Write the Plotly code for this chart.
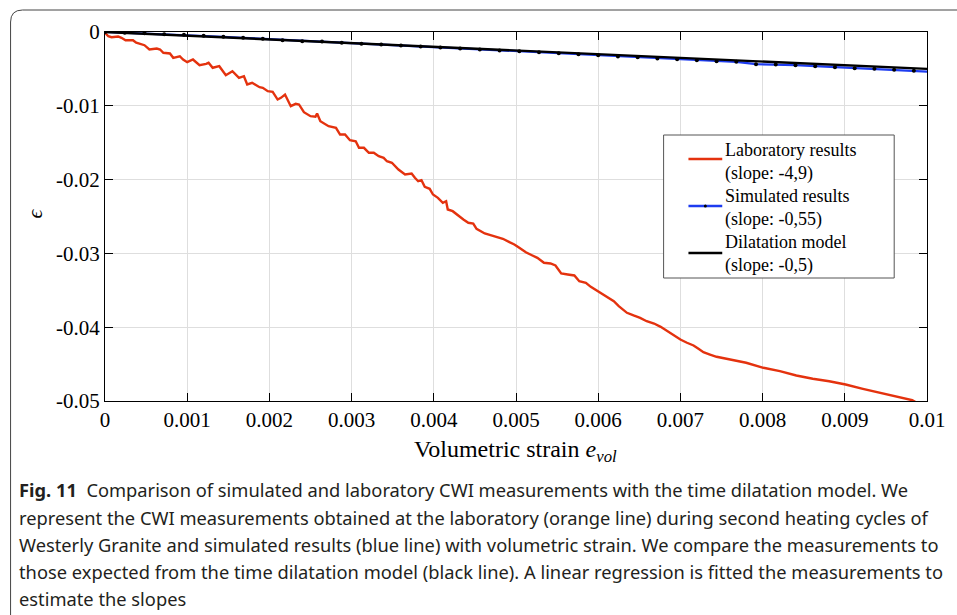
import plotly.graph_objects as go

# ---------------- data ----------------
lab_strain = [0, 0.00004, 0.00008, 0.00016, 0.00020, 0.00025, 0.00034, 0.00038, 0.00048, 0.00054,
              0.00063, 0.00067, 0.00071, 0.00079, 0.00083, 0.00091, 0.00095, 0.00100, 0.00107, 0.00115,
              0.00123, 0.00126, 0.00131, 0.00139, 0.00147, 0.00155, 0.00163, 0.00169, 0.00173, 0.00179,
              0.00188,
              0.00192, 0.00198, 0.00204, 0.00210, 0.00214, 0.00219, 0.00226, 0.00232, 0.00236, 0.00242,
              0.00250, 0.00256, 0.00258, 0.00262, 0.00272, 0.00281, 0.00286, 0.00292, 0.00298, 0.00305,
              0.00309, 0.00315, 0.00321, 0.00327, 0.00333, 0.00339, 0.00343, 0.00349, 0.00357, 0.00365,
              0.00373,
              0.00377, 0.00381, 0.00385, 0.00389, 0.00395, 0.00399, 0.00405, 0.00411, 0.00415, 0.00417,
              0.00423, 0.00430, 0.00436, 0.00442, 0.00448, 0.00452, 0.00462, 0.00470, 0.00476, 0.00484,
              0.00492, 0.00498, 0.00504, 0.00512, 0.00520, 0.00526, 0.00534, 0.00542, 0.00548, 0.00555,
              0.00563, 0.00571, 0.00577, 0.00585, 0.00591, 0.00599, 0.00609, 0.00619, 0.00625, 0.00635,
              0.00643, 0.00651, 0.00659, 0.00668, 0.00676, 0.00684, 0.00692, 0.00700, 0.00708, 0.00716,
              0.00722, 0.00728, 0.00736, 0.00744, 0.00756, 0.00768, 0.00780,
              0.00801, 0.00821, 0.00841, 0.00861, 0.00881, 0.00901, 0.00922, 0.00942, 0.00962, 0.00982,
              0.00990]
lab_eps = [-0.0001, -0.00057, -0.00070, -0.00061, -0.00079, -0.00111, -0.00111, -0.00146, -0.00179, -0.00237,
           -0.00224, -0.00237, -0.00282, -0.00291, -0.00350, -0.00328, -0.00373, -0.00409, -0.00373, -0.00450,
           -0.00431, -0.00417, -0.00485, -0.00463, -0.00585, -0.00531, -0.00621, -0.00599, -0.00711, -0.00688,
           -0.00748,
           -0.00756, -0.00802, -0.00810, -0.00915, -0.00892, -0.00847, -0.01005, -0.00973, -0.00982, -0.01087,
           -0.01141, -0.01149, -0.01104, -0.01209, -0.01276, -0.01298, -0.01389, -0.01389, -0.01466, -0.01480,
           -0.01569, -0.01569, -0.01637, -0.01637, -0.01683, -0.01705, -0.01751, -0.01772, -0.01863, -0.01931,
           -0.01917,
           -0.01976, -0.02022, -0.02008, -0.02098, -0.02125, -0.02202, -0.02247, -0.02314, -0.02293, -0.02405,
           -0.02428, -0.02496, -0.02541, -0.02585, -0.02595, -0.02667, -0.02730, -0.02757, -0.02775, -0.02802,
           -0.02848, -0.02879, -0.02924, -0.02984, -0.03028, -0.03060, -0.03127, -0.03137, -0.03164, -0.03272,
           -0.03286, -0.03299, -0.03377, -0.03398, -0.03453, -0.03512, -0.03580, -0.03648, -0.03715, -0.03805,
           -0.03841, -0.03873, -0.03919, -0.03950, -0.03995, -0.04054, -0.04112, -0.04167, -0.04211, -0.04248,
           -0.04293, -0.04339, -0.04370, -0.04401, -0.04428, -0.04455, -0.04482,
           -0.04550, -0.04596, -0.04654, -0.04699, -0.04732, -0.04776, -0.04835, -0.04889, -0.04943, -0.04989,
           -0.05040]

sim_strain = [0, 0.00024, 0.00048, 0.00072, 0.00096, 0.0012, 0.00144, 0.00168, 0.00192, 0.00216,
              0.0024, 0.00264, 0.00288, 0.00312, 0.00336, 0.0036, 0.00384, 0.00408, 0.00432, 0.00456,
              0.0048, 0.00504, 0.00528, 0.00552, 0.00576, 0.006, 0.00624, 0.00648, 0.00672, 0.00696,
              0.0072, 0.00744, 0.00768, 0.00792, 0.00816, 0.0084, 0.00864, 0.00888, 0.00912, 0.00936,
              0.0096, 0.00984, 0.01008]
sim_eps = [0, -0.0001, -0.00016, -0.0003, -0.00038, -0.00051, -0.00065, -0.00079, -0.00092, -0.00111,
           -0.00125, -0.00129, -0.00146, -0.0016, -0.00169, -0.00182, -0.00195, -0.00209, -0.00222, -0.00236,
           -0.0025, -0.00262, -0.00275, -0.00288, -0.00301, -0.00314, -0.00332, -0.00341, -0.00359, -0.00369,
           -0.00382, -0.00396, -0.00404, -0.00436, -0.0044, -0.0045, -0.00463, -0.00477, -0.0049, -0.00498,
           -0.00512, -0.00526, -0.0054]

model_strain = [0, 0.01]
model_eps = [0, -0.005]

x_tickvals = [0, 0.001, 0.002, 0.003, 0.004, 0.005, 0.006, 0.007, 0.008, 0.009, 0.01]
x_ticktext = ["0", "0.001", "0.002", "0.003", "0.004", "0.005", "0.006", "0.007", "0.008", "0.009", "0.01"]
y_tickvals = [0, -0.01, -0.02, -0.03, -0.04, -0.05]
y_ticktext = ["0", "-0.01", "-0.02", "-0.03", "-0.04", "-0.05"]

legend_names = ["Laboratory results", "Simulated results", "Dilatation model"]
legend_slopes = ["(slope: -4,9)", "(slope: -0,55)", "(slope: -0,5)"]

x_title = "Volumetric strain <i>e</i><sub><i>vol</i></sub>"
y_title = "<i>ϵ</i>"

caption_lines = [
    "<b>Fig. 11</b>&nbsp;&nbsp;Comparison of simulated and laboratory CWI measurements with the time dilatation model. We",
    "represent the CWI measurements obtained at the laboratory (orange line) during second heating cycles of",
    "Westerly Granite and simulated results (blue line) with volumetric strain. We compare the measurements to",
    "those expected from the time dilatation model (black line). A linear regression is fitted the measurements to",
    "estimate the slopes",
]

# ---------------- layout helpers ----------------
W, H = 957, 615
L, R, T, B = 105, 25, 32, 214
PW, PH = W - L - R, H - T - B


def px(x):
    return (x - L) / PW


def py(y):
    return (H - B - y) / PH


RED = "#e4320e"
BLUE = "#1e3cf0"
SERIF = "Liberation Serif"

fig = go.Figure()
fig.add_trace(go.Scatter(x=lab_strain, y=lab_eps, mode="lines",
                         line=dict(color=RED, width=2.4), showlegend=False))
fig.add_trace(go.Scatter(x=sim_strain, y=sim_eps, mode="lines+markers",
                         line=dict(color=BLUE, width=2.2),
                         marker=dict(color="black", size=4), showlegend=False))
fig.add_trace(go.Scatter(x=model_strain, y=model_eps, mode="lines",
                         line=dict(color="black", width=2.4), showlegend=False))

axis_common = dict(ticks="inside", ticklen=8, tickcolor="black", tickwidth=1,
                   showline=True, linecolor="black", linewidth=1, mirror="allticks",
                   showgrid=True, gridcolor="#dedede", gridwidth=1, zeroline=False,
                   tickfont=dict(family=SERIF, size=21, color="black"))

fig.update_xaxes(range=[0, 0.01], tickmode="array", tickvals=x_tickvals, ticktext=x_ticktext,
                 **axis_common)
fig.update_yaxes(range=[-0.05, 0], tickmode="array", tickvals=y_tickvals, ticktext=y_ticktext,
                 **axis_common)

shapes = []
annotations = []

# outer rounded frame
r = 12
x0, y0 = 10, 10
path = (f"M {px(x0)},{py(700)} L {px(x0)},{py(y0 + r)} "
        f"Q {px(x0)},{py(y0)} {px(x0 + r)},{py(y0)} L {px(1100)},{py(y0)}")
shapes.append(dict(type="path", xref="paper", yref="paper", path=path,
                   line=dict(color="#444444", width=1), layer="above"))

# legend box
shapes.append(dict(type="rect", xref="paper", yref="paper",
                   x0=px(667), x1=px(899), y0=py(278), y1=py(135),
                   line=dict(color="#555555", width=1), fillcolor="white", layer="above"))
sample_colors = [RED, BLUE, "black"]
sample_y = [159, 206, 253]
text_y = [150, 173, 196, 219, 242, 265]
for i, name in enumerate(legend_names):
    shapes.append(dict(type="line", xref="paper", yref="paper",
                       x0=px(692), x1=px(726), y0=py(sample_y[i]), y1=py(sample_y[i]),
                       line=dict(color=sample_colors[i], width=2.4), layer="above"))
    annotations.append(dict(x=px(727), y=py(text_y[2 * i]), xref="paper", yref="paper",
                            text=name, showarrow=False, xanchor="left", yanchor="middle",
                            font=dict(family=SERIF, size=18, color="black")))
    annotations.append(dict(x=px(727), y=py(text_y[2 * i + 1]), xref="paper", yref="paper",
                            text=legend_slopes[i], showarrow=False, xanchor="left", yanchor="middle",
                            font=dict(family=SERIF, size=18, color="black")))
shapes.append(dict(type="circle", xref="paper", yref="paper",
                   x0=px(707.5), x1=px(710.5), y0=py(207.5), y1=py(204.5),
                   fillcolor="black", line=dict(color="black", width=0), layer="above"))

# axis titles
annotations.append(dict(x=px(518), y=py(451), xref="paper", yref="paper", text=x_title,
                        showarrow=False, xanchor="center", yanchor="middle",
                        font=dict(family=SERIF, size=24, color="black")))
annotations.append(dict(x=px(34), y=py(213), xref="paper", yref="paper", text=y_title,
                        showarrow=False, xanchor="center", yanchor="middle", textangle=-90,
                        font=dict(family=SERIF, size=22, color="black")))

# caption
cap_y = [489, 517, 544, 571, 598]
for i, line in enumerate(caption_lines):
    annotations.append(dict(x=px(16), y=py(cap_y[i]), xref="paper", yref="paper", text=line,
                            showarrow=False, xanchor="left", yanchor="middle",
                            font=dict(family="Noto Sans", size=18.3, color="#231f20")))

fig.update_layout(width=W, height=H, margin=dict(l=L, r=R, t=T, b=B),
                  paper_bgcolor="white", plot_bgcolor="white",
                  shapes=shapes, annotations=annotations, showlegend=False)

fig.write_html("out.html", config={"displayModeBar": False},
               post_script="document.body.style.margin='0';")
